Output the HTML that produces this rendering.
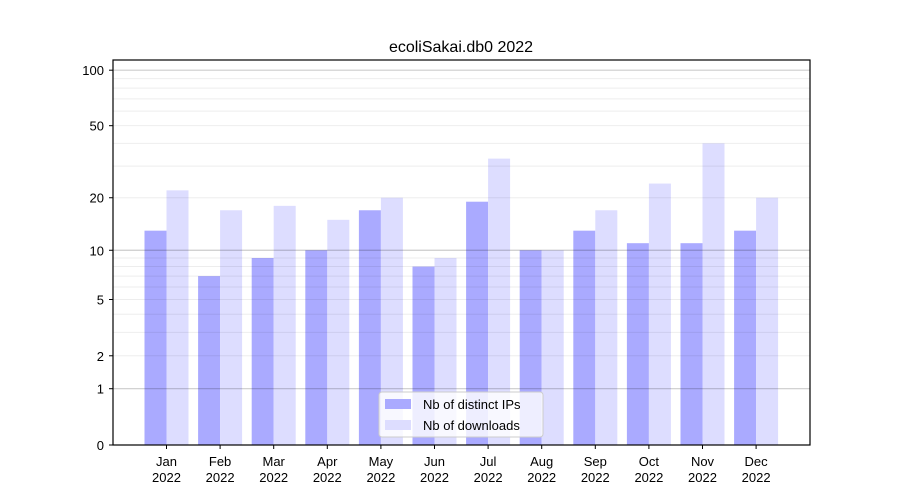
<!DOCTYPE html>
<html><head><meta charset="utf-8"><style>body{margin:0;background:#fff}svg{display:block;font-family:"Liberation Sans","DejaVu Sans",sans-serif}</style></head>
<body>
<svg id="c" width="900" height="500" xmlns="http://www.w3.org/2000/svg">
<rect width="900" height="500" fill="#fff"/>
<text x="461" y="52" font-size="16" text-anchor="middle">ecoliSakai.db0 2022</text>
<g id="bars"></g><g id="grid"></g><g id="axes"></g>
<rect x="113" y="60" width="697" height="385" fill="none" stroke="#000" stroke-width="1.2"/>
<g>
<rect x="379" y="392" width="164" height="45" rx="3" fill="#fff" fill-opacity="0.8" stroke="#ccc"/>
<rect x="385" y="399" width="26" height="10" fill="#aaaaff"/>
<text x="423" y="409" font-size="13">Nb of distinct IPs</text>
<rect x="385" y="420" width="26" height="10" fill="#ddddff"/>
<text x="423" y="430" font-size="13">Nb of downloads</text>
</g>
</svg>
<script>
const months=["Jan","Feb","Mar","Apr","May","Jun","Jul","Aug","Sep","Oct","Nov","Dec"];
const ips=[13,7,9,10,17,8,19,10,13,11,11,13];
const downloads=[22,17,18,15,20,9,33,10,17,24,40,20];
const yTicks=[0,1,2,5,10,20,50,100];
const NS="http://www.w3.org/2000/svg";
function y(v){return 445-187*Math.log10(1+v);}
function xc(i){return 166.5+i*53.6;}
function mk(t,a,p){const e=document.createElementNS(NS,t);for(const k in a)e.setAttribute(k,a[k]);p.appendChild(e);return e;}
const bars=document.getElementById('bars'),grid=document.getElementById('grid'),axes=document.getElementById('axes');
months.forEach((m,i)=>{
 const b1=mk('rect',{x:xc(i)-22,y:y(ips[i]),width:22,height:445-y(ips[i]),fill:'#aaaaff'},bars);
 
 
 const b2=mk('rect',{x:xc(i),y:y(downloads[i]),width:22,height:445-y(downloads[i]),fill:'#ddddff'},bars);
 
 
 mk('line',{x1:xc(i),x2:xc(i),y1:445,y2:449,stroke:'#000'},axes);
 const t=mk('text',{x:xc(i),y:466,'font-size':13,'text-anchor':'middle'},axes);
 
 
 t.textContent=m;
 const t2=mk('text',{x:xc(i),y:482,'font-size':13,'text-anchor':'middle'},axes);
 
 
 t2.textContent='2022';
});
[1,10,100].forEach(v=>{mk('line',{x1:113,x2:810,y1:y(v),y2:y(v),stroke:'#000','stroke-opacity':0.2,'stroke-width':1.2},grid);});
[2,3,4,5,6,7,8,9,20,30,40,50,60,70,80,90].forEach(v=>{mk('line',{x1:113,x2:810,y1:y(v),y2:y(v),stroke:'#000','stroke-opacity':0.07,'stroke-width':1},grid);});
yTicks.forEach(v=>{
 mk('line',{x1:109,x2:113,y1:y(v),y2:y(v),stroke:'#000'},axes);
 const t=mk('text',{x:104,y:y(v)+5,'font-size':13,'text-anchor':'end'},axes);
 
 
 t.textContent=v;
});
</script>
</body></html>
